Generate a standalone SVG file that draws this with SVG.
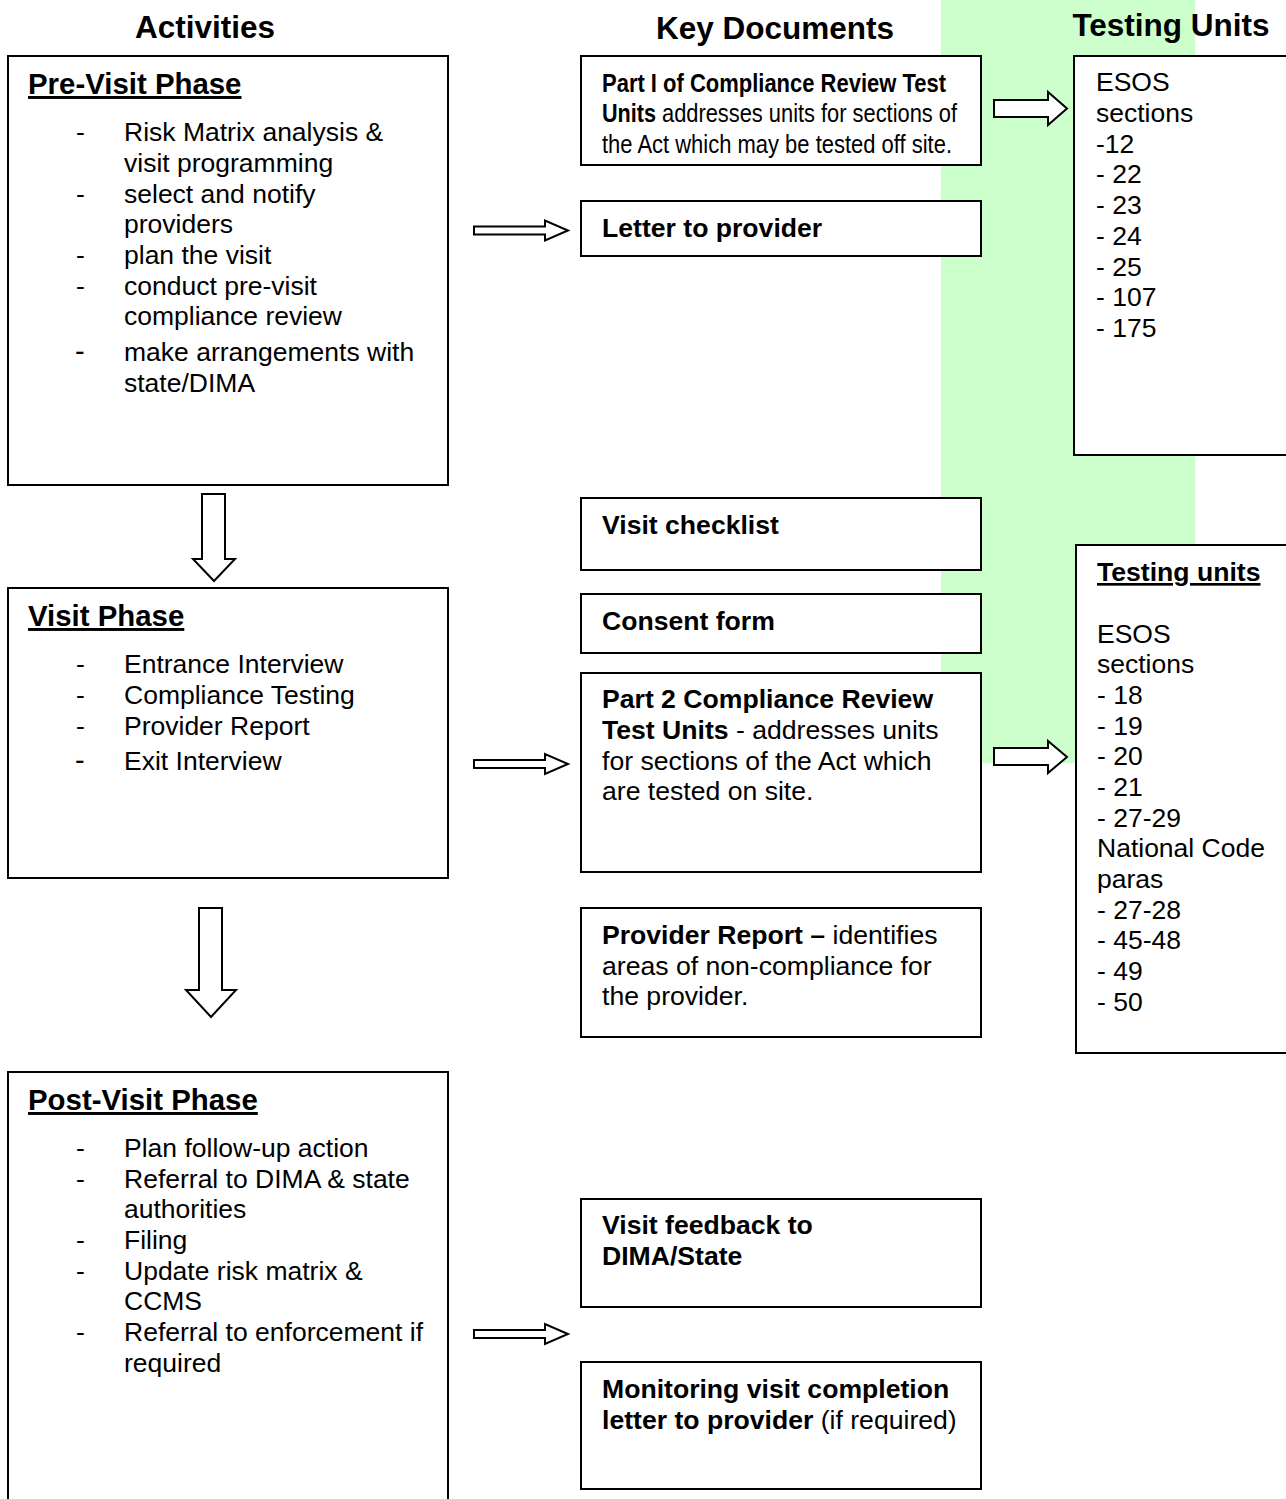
<svg xmlns="http://www.w3.org/2000/svg" width="1286" height="1499" viewBox="0 0 1286 1499">
<style>
text{font-family:"Liberation Sans",Arial,sans-serif;fill:#000}
.hdr{font-size:31.5px;font-weight:bold}
.ttl{font-size:29.4px;font-weight:bold;text-decoration:underline}
.body{font-size:26.5px}
.doc{font-size:26.6px}
.b{font-weight:bold}
.nar{font-family:"Liberation Sans Narrow","Liberation Sans",Arial,sans-serif;font-size:25px}
.box{fill:#fff;stroke:#000;stroke-width:2}
.arr{fill:#fff;stroke:#000;stroke-width:2;stroke-linejoin:miter}
</style>
<rect width="1286" height="1499" fill="#fff"/>
<polygon points="941,0 1195,0 1195,545 1075,545 1075,763 941,763" fill="#ccffcc"/>

<g id="headers">
<text class="hdr" x="205" y="38" text-anchor="middle">Activities</text>
<text class="hdr" x="775" y="39" text-anchor="middle">Key Documents</text>
<text class="hdr" x="1171" y="36" text-anchor="middle">Testing Units</text>
</g>

<g id="previsit">
<rect class="box" x="8" y="56" width="440" height="429"/>
<text class="ttl" x="28" y="94">Pre-Visit Phase</text>
<g class="body">
<text x="76" y="141">-</text><text x="124" y="141">Risk Matrix analysis &amp;</text>
<text x="124" y="172">visit programming</text>
<text x="76" y="203">-</text><text x="124" y="203">select and notify</text>
<text x="124" y="233">providers</text>
<text x="76" y="264">-</text><text x="124" y="264">plan the visit</text>
<text x="76" y="295">-</text><text x="124" y="295">conduct pre-visit</text>
<text x="124" y="325">compliance review</text>
<text x="75" y="361" style="font-size:29px">-</text><text x="124" y="361">make arrangements with</text>
<text x="124" y="392">state/DIMA</text>
</g>
</g>

<g id="visit">
<rect class="box" x="8" y="588" width="440" height="290"/>
<text class="ttl" x="28" y="626">Visit Phase</text>
<g class="body">
<text x="76" y="673">-</text><text x="124" y="673">Entrance Interview</text>
<text x="76" y="704">-</text><text x="124" y="704">Compliance Testing</text>
<text x="76" y="735">-</text><text x="124" y="735">Provider Report</text>
<text x="75" y="770" style="font-size:29px">-</text><text x="124" y="770">Exit Interview</text>
</g>
</g>

<g id="postvisit">
<rect class="box" x="8" y="1072" width="440" height="440"/>
<text class="ttl" x="28" y="1110">Post-Visit Phase</text>
<g class="body">
<text x="76" y="1157">-</text><text x="124" y="1157">Plan follow-up action</text>
<text x="76" y="1188">-</text><text x="124" y="1188">Referral to DIMA &amp; state</text>
<text x="124" y="1218">authorities</text>
<text x="76" y="1249">-</text><text x="124" y="1249">Filing</text>
<text x="76" y="1280">-</text><text x="124" y="1280">Update risk matrix &amp;</text>
<text x="124" y="1310">CCMS</text>
<text x="76" y="1341">-</text><text x="124" y="1341">Referral to enforcement if</text>
<text x="124" y="1372">required</text>
</g>
</g>

<g id="doc-part1">
<rect class="box" x="581" y="56" width="400" height="109"/>
<text class="nar b" x="602" y="92" textLength="344" lengthAdjust="spacingAndGlyphs">Part I of Compliance Review Test</text>
<text class="nar b" x="602" y="122" textLength="54" lengthAdjust="spacingAndGlyphs">Units</text>
<text class="nar" x="662" y="122" textLength="295" lengthAdjust="spacingAndGlyphs">addresses units for sections of</text>
<text class="nar" x="602" y="153" textLength="350" lengthAdjust="spacingAndGlyphs">the Act which may be tested off site.</text>
</g>

<g id="doc-letter">
<rect class="box" x="581" y="201" width="400" height="55"/>
<text class="doc b" x="602" y="237">Letter to provider</text>
</g>

<g id="doc-checklist">
<rect class="box" x="581" y="498" width="400" height="72"/>
<text class="doc b" x="602" y="534">Visit checklist</text>
</g>

<g id="doc-consent">
<rect class="box" x="581" y="594" width="400" height="59"/>
<text class="doc b" x="602" y="630">Consent form</text>
</g>

<g id="doc-part2">
<rect class="box" x="581" y="673" width="400" height="199"/>
<text class="doc b" x="602" y="708">Part 2 Compliance Review</text>
<text class="doc" x="602" y="739"><tspan class="b">Test Units</tspan> - addresses units</text>
<text class="doc" x="602" y="770">for sections of the Act which</text>
<text class="doc" x="602" y="800">are tested on site.</text>
</g>

<g id="doc-report">
<rect class="box" x="581" y="908" width="400" height="129"/>
<text class="doc" x="602" y="944"><tspan class="b">Provider Report –</tspan> identifies</text>
<text class="doc" x="602" y="975">areas of non-compliance for</text>
<text class="doc" x="602" y="1005">the provider.</text>
</g>

<g id="doc-feedback">
<rect class="box" x="581" y="1199" width="400" height="108"/>
<text class="doc b" x="602" y="1234">Visit feedback to</text>
<text class="doc b" x="602" y="1265">DIMA/State</text>
</g>

<g id="doc-monitoring">
<rect class="box" x="581" y="1362" width="400" height="127"/>
<text class="doc b" x="602" y="1398">Monitoring visit completion</text>
<text class="doc" x="602" y="1429"><tspan class="b">letter to provider</tspan> (if required)</text>
</g>

<g id="units-1">
<rect class="box" x="1074" y="56" width="220" height="399"/>
<g class="body">
<text x="1096" y="91">ESOS</text>
<text x="1096" y="122">sections</text>
<text x="1096" y="153">-12</text>
<text x="1096" y="183">- 22</text>
<text x="1096" y="214">- 23</text>
<text x="1096" y="245">- 24</text>
<text x="1096" y="276">- 25</text>
<text x="1096" y="306">- 107</text>
<text x="1096" y="337">- 175</text>
</g>
</g>

<g id="units-2">
<rect class="box" x="1076" y="545" width="218" height="508"/>
<text class="doc b" x="1097" y="581" style="text-decoration:underline">Testing units</text>
<g class="body">
<text x="1097" y="643">ESOS</text>
<text x="1097" y="673">sections</text>
<text x="1097" y="704">- 18</text>
<text x="1097" y="735">- 19</text>
<text x="1097" y="765">- 20</text>
<text x="1097" y="796">- 21</text>
<text x="1097" y="827">- 27-29</text>
<text x="1097" y="857">National Code</text>
<text x="1097" y="888">paras</text>
<text x="1097" y="919">- 27-28</text>
<text x="1097" y="949">- 45-48</text>
<text x="1097" y="980">- 49</text>
<text x="1097" y="1011">- 50</text>
</g>
</g>

<g id="connectors">
<polygon class="arr" points="474,226.5 545,226.5 545,220.5 568,230.5 545,240.5 545,234.5 474,234.5"/>
<polygon class="arr" points="474,760 545,760 545,754 568,764 545,774 545,768 474,768"/>
<polygon class="arr" points="474,1330 545,1330 545,1324 568,1334 545,1344 545,1338 474,1338"/>
<polygon class="arr" points="994,100 1048,100 1048,92 1067,108.5 1048,125 1048,117 994,117"/>
<polygon class="arr" points="994,748 1048,748 1048,741 1067,757 1048,773 1048,765 994,765"/>
<polygon class="arr" points="202,494 225,494 225,559 235,559 214,581 193,559 202,559"/>
<polygon class="arr" points="199,908 222,908 222,990 236,990 211,1017 186,990 199,990"/>
</g>
</svg>
